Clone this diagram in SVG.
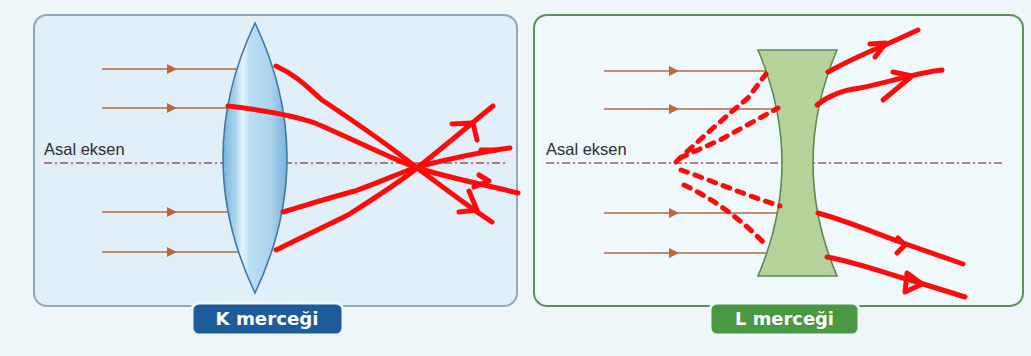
<svg xmlns="http://www.w3.org/2000/svg" width="1031" height="356" viewBox="0 0 1031 356">
  <style>
    .panel-k { fill: #e1eff8; stroke: #8ea8be; stroke-width: 2; }
    .panel-l { fill: #eff8fa; stroke: #5f9256; stroke-width: 2; }
    .axis { stroke: #a8525f; stroke-width: 1.6; stroke-dasharray: 8 3 2 3; fill: none; }
    .ray-in { stroke: #b8683f; stroke-width: 1.6; fill: none; }
    .ray-out { stroke: #ff0a0a; stroke-width: 5; fill: none; stroke-linecap: round; stroke-linejoin: round; }
    .ray-virt { stroke: #ff0a0a; stroke-width: 5; fill: none; stroke-linecap: round; stroke-dasharray: 7 8; }
    .axis-label { font-family: "Liberation Sans", Arial, sans-serif; font-size: 16.5px; fill: #2e2e2e; }
    .tag { font-family: "DejaVu Sans", "Liberation Sans", sans-serif; font-size: 17.5px; font-weight: bold; fill: #ffffff; }
    .tag-box { stroke: #eef6fa; stroke-width: 3; }
  </style>
  <defs>
    <marker id="head-in" viewBox="0 0 10 10" refX="5" refY="5" markerWidth="10" markerHeight="10" markerUnits="userSpaceOnUse" orient="auto">
      <path d="M0,0 L10,5 L0,10 Z" fill="#c0653a"/>
    </marker>
    <linearGradient id="convex-glass" x1="0" y1="0" x2="1" y2="0">
      <stop offset="0" stop-color="#78b4dc"/>
      <stop offset="0.2" stop-color="#acd5ee"/>
      <stop offset="0.3" stop-color="#e6f4fc"/>
      <stop offset="0.42" stop-color="#bcdff3"/>
      <stop offset="0.75" stop-color="#aad3ed"/>
      <stop offset="1" stop-color="#78b3da"/>
    </linearGradient>
  </defs>

  <!-- page background -->
  <rect x="0" y="0" width="1031" height="356" fill="#eef6fa"/>

  <!-- panel K: converging lens -->
  <g id="panel-k">
    <rect class="panel-k" x="34" y="15" width="483" height="291" rx="13"/>
    <line class="axis" x1="44" y1="163" x2="507" y2="163"/>
    <text class="axis-label" x="44" y="155">Asal eksen</text>
  </g>

  <!-- panel L: diverging lens -->
  <g id="panel-l">
    <rect class="panel-l" x="534" y="15" width="489" height="291" rx="13"/>
    <line class="axis" x1="546" y1="163" x2="1003" y2="163"/>
    <text class="axis-label" x="546" y="155">Asal eksen</text>
  </g>

  <!-- incoming parallel rays -->
  <g id="connectors">
    <g id="incident-k">
      <path class="ray-in" d="M102,69 L172,69" marker-end="url(#head-in)"/>
      <path class="ray-in" d="M170,69 L240,69"/>
      <path class="ray-in" d="M102,108 L172,108" marker-end="url(#head-in)"/>
      <path class="ray-in" d="M170,108 L240,108"/>
      <path class="ray-in" d="M102,212 L172,212" marker-end="url(#head-in)"/>
      <path class="ray-in" d="M170,212 L240,212"/>
      <path class="ray-in" d="M102,252 L172,252" marker-end="url(#head-in)"/>
      <path class="ray-in" d="M170,252 L240,252"/>
    </g>
    <g id="incident-l">
      <path class="ray-in" d="M604,71 L674,71" marker-end="url(#head-in)"/>
      <path class="ray-in" d="M672,71 L790,71"/>
      <path class="ray-in" d="M604,109 L674,109" marker-end="url(#head-in)"/>
      <path class="ray-in" d="M672,109 L790,109"/>
      <path class="ray-in" d="M604,213 L674,213" marker-end="url(#head-in)"/>
      <path class="ray-in" d="M672,213 L790,213"/>
      <path class="ray-in" d="M604,253 L674,253" marker-end="url(#head-in)"/>
      <path class="ray-in" d="M672,253 L790,253"/>
    </g>
  </g>

  <!-- lenses -->
  <g id="lens-k">
    <path d="M255,23 Q319,158 255,293 Q191,158 255,23 Z" fill="url(#convex-glass)" stroke="#3d7aa8" stroke-width="1.6"/>
  </g>
  <g id="lens-l">
    <path d="M758,50 L837,50 Q789,163 837,276 L758,276 Q806,163 758,50 Z" fill="#b4d39b" stroke="#5d8a50" stroke-width="1.6"/>
  </g>

  <!-- refracted rays, drawn freehand -->
  <g id="refracted-k">
    <path class="ray-out" d="M276,66 C298,76 310,90 322,100 C355,122 390,146 417,168 C442,186 466,205 492,222"/>
    <path class="ray-out" d="M459,212 L477,210 L469,191"/>
    <path class="ray-out" d="M228,106 C262,110 292,115 315,123 C350,138 390,158 417,168 C450,178 490,186 518,193"/>
    <path class="ray-out" d="M479,175 L489,181 L474,187"/>
    <path class="ray-out" d="M283,212 C310,204 335,196 355,191 C380,182 402,172 417,167 C445,160 480,152 510,148"/>
    <path class="ray-out" d="M481,150 L496,150"/>
    <path class="ray-out" d="M276,250 C300,238 328,225 348,215 C378,196 400,182 417,168 C440,150 466,128 493,106"/>
    <path class="ray-out" d="M452,124 L473,123 L477,140"/>
  </g>

  <g id="refracted-l">
    <path class="ray-out" d="M828,72 C850,60 868,52 885,45 L918,30"/>
    <path class="ray-out" d="M870,44 L886,43 L875,57"/>
    <path class="ray-out" d="M817,105 C828,96 843,90 860,88 C890,82 920,72 942,70"/>
    <path class="ray-out" d="M893,72 L912,76 L883,100"/>
    <path class="ray-out" d="M818,213 C850,222 880,235 903,243 L963,264"/>
    <path class="ray-out" d="M898,238 L905,245 L897,253"/>
    <path class="ray-out" d="M827,257 C860,263 890,275 920,283 L965,297"/>
    <path class="ray-out" d="M907,273 L922,284 L905,292 Z"/>
  </g>

  <!-- backward extensions to the virtual focus -->
  <g id="virtual-l">
    <path class="ray-virt" d="M676,162 Q712,128 748,98 L766,74"/>
    <path class="ray-virt" d="M680,158 L720,140 L778,108"/>
    <path class="ray-virt" d="M681,170 C710,180 745,195 780,206"/>
    <path class="ray-virt" d="M684,185 C705,195 735,213 765,244"/>
  </g>

  <!-- captions -->
  <g id="label-k">
    <rect class="tag-box" x="192" y="303" width="151" height="32" rx="7" fill="#1d5b9a"/>
    <text class="tag" x="267" y="325" text-anchor="middle" textLength="103" lengthAdjust="spacingAndGlyphs">K merceği</text>
  </g>
  <g id="label-l">
    <rect class="tag-box" x="710" y="303" width="149" height="32" rx="7" fill="#4a9843"/>
    <text class="tag" x="784.5" y="325" text-anchor="middle" textLength="99" lengthAdjust="spacingAndGlyphs">L merceği</text>
  </g>
</svg>
